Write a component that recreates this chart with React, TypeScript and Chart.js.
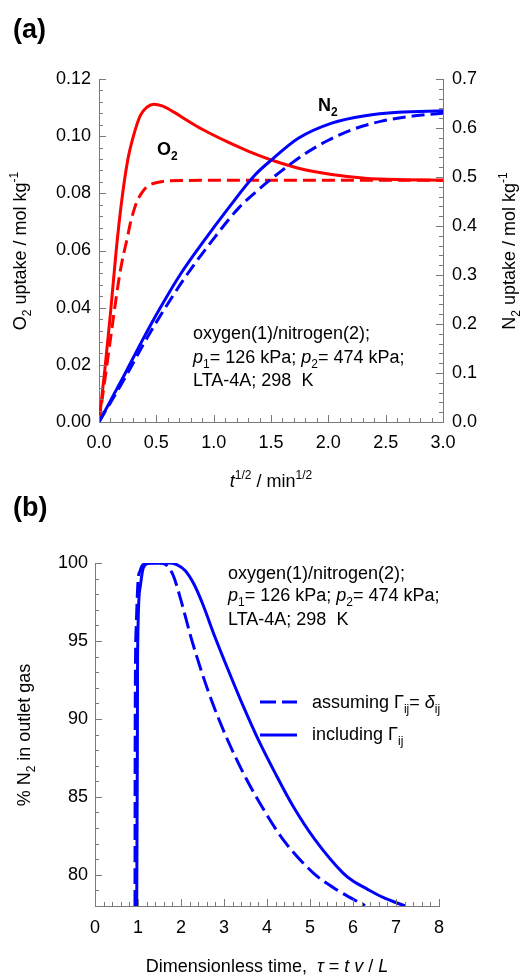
import { useEffect, useRef } from "react";
import { Chart, registerables } from "chart.js";

Chart.register(...registerables);

// ---------- Panel (a): uptake transients ----------
const o2FullT = [0, 0.05, 0.1, 0.15, 0.2, 0.25, 0.3, 0.36, 0.42, 0.48, 0.55, 0.65, 0.77, 0.9, 1.13, 1.3, 1.53, 1.74, 2.03, 2.32, 2.6, 3.0];
const o2FullQ = [0, 0.018, 0.038, 0.06, 0.078, 0.0915, 0.1, 0.1072, 0.1102, 0.1112, 0.1106, 0.1085, 0.1055, 0.1024, 0.0978, 0.0948, 0.0913, 0.0888, 0.0866, 0.0853, 0.0848, 0.0846];
const o2DiagT = [0, 0.05, 0.1, 0.17, 0.2, 0.25, 0.273, 0.3, 0.331, 0.37, 0.418, 0.52, 0.74, 1.2, 2.0, 3.0];
const o2DiagQ = [0, 0.0145, 0.029, 0.049, 0.056, 0.065, 0.0695, 0.0735, 0.0771, 0.08, 0.0823, 0.0839, 0.0845, 0.0846, 0.0846, 0.0846];
const n2FullT = [0, 0.221, 0.372, 0.532, 0.706, 0.91, 1.127, 1.36, 1.52, 1.738, 2.03, 2.32, 2.61, 3.0];
const n2FullQ = [0, 0.096, 0.164, 0.232, 0.3, 0.368, 0.436, 0.504, 0.538, 0.579, 0.61, 0.625, 0.632, 0.635];
const n2DiagT = [0, 0.241, 0.4, 0.575, 0.765, 0.98, 1.215, 1.4, 1.6, 1.8, 2.0, 2.2, 2.465, 2.755, 3.0];
const n2DiagQ = [0, 0.096, 0.164, 0.232, 0.3, 0.368, 0.436, 0.476, 0.514, 0.548, 0.575, 0.596, 0.614, 0.625, 0.63];
const aXTicks = [0, 0.5, 1, 1.5, 2, 2.5, 3];
const aLeftTicks = [0, 0.02, 0.04, 0.06, 0.08, 0.1, 0.12];
const aRightTicks = [0, 0.1, 0.2, 0.3, 0.4, 0.5, 0.6, 0.7];

// ---------- Panel (b): breakthrough, % N2 in outlet gas ----------
const bFullT = [0.97, 0.985, 0.99, 1.047, 1.12, 1.24, 1.4, 1.7, 1.9, 2.1, 2.3, 2.5, 2.79, 3.14, 3.45, 3.8, 4.19, 4.61, 5.12, 5.77, 6.0, 6.32, 6.7, 7.21];
const bFullY = [78, 88, 94, 98.4, 99.66, 99.97, 100, 100, 99.9, 99.5, 98.65, 97.4, 95.25, 92.85, 90.8, 88.65, 86.52, 84.38, 82.24, 80.11, 79.6, 79.1, 78.55, 78.0];
const bDiagT = [0.93, 0.935, 0.96, 1.0, 1.05, 1.12, 1.3, 1.5, 1.67, 1.82, 2.0, 2.23, 2.5, 2.77, 3.1, 3.45, 3.88, 4.38, 5.08, 5.62, 6.28];
const bDiagY = [78, 90, 96, 98.8, 99.5, 99.9, 100, 100, 99.85, 99.2, 97.6, 95.25, 92.85, 90.75, 88.55, 86.52, 84.38, 82.24, 80.11, 79.04, 78.03];
const bXTicks = [0, 1, 2, 3, 4, 5, 6, 7, 8];
const bYTicks = [80, 85, 90, 95, 100];

const FONT = '"Liberation Sans", Arial, Helvetica, sans-serif';
const AXIS = "#7a7a7a";
const RED = "#ff0000";
const BLUE = "#0000ff";

type Seg = { t: string; it?: boolean; b?: boolean; sub?: boolean; sup?: boolean };

function fontFor(s: Seg, size: number) {
  const fs = s.sub || s.sup ? Math.round(size * 0.66) : size;
  return `${s.it ? "italic " : ""}${s.b ? "bold " : ""}${fs}px ${FONT}`;
}

function drawRich(ctx: CanvasRenderingContext2D, segs: Seg[], x: number, y: number, size: number, align: "left" | "center", rot = 0) {
  ctx.save();
  let w = 0;
  const widths = segs.map((s) => {
    ctx.font = fontFor(s, size);
    const m = ctx.measureText(s.t).width;
    w += m;
    return m;
  });
  ctx.translate(x, y);
  ctx.rotate(rot);
  let cx = align === "center" ? -w / 2 : 0;
  ctx.textBaseline = "alphabetic";
  ctx.textAlign = "left";
  ctx.fillStyle = "#000";
  segs.forEach((s, i) => {
    ctx.font = fontFor(s, size);
    const dy = s.sub ? size * 0.28 : s.sup ? -size * 0.42 : 0;
    ctx.fillText(s.t, cx, dy);
    cx += widths[i];
  });
  ctx.restore();
}

type TickSpec = { id: string; side: "bottom" | "left" | "right"; minor: number; major: number };

function makeTickPlugin(specs: TickSpec[]) {
  return {
    id: "innerTicks",
    afterDraw(chart: any) {
      const ctx: CanvasRenderingContext2D = chart.ctx;
      const ca = chart.chartArea;
      ctx.save();
      ctx.strokeStyle = AXIS;
      ctx.lineWidth = 1;
      specs.forEach((sp) => {
        const sc = chart.scales[sp.id];
        const n = Math.round((sc.max - sc.min) / sp.minor);
        for (let k = 0; k <= n; k++) {
          const v = sc.min + k * sp.minor;
          const r = v / sp.major;
          const isMajor = Math.abs(r - Math.round(r)) < 1e-6;
          const len = isMajor ? 7 : 4;
          ctx.beginPath();
          if (sp.side === "bottom") {
            const px = Math.round(sc.getPixelForValue(v)) + 0.5;
            ctx.moveTo(px, ca.bottom);
            ctx.lineTo(px, ca.bottom - len);
          } else if (sp.side === "left") {
            const py = Math.round(sc.getPixelForValue(v)) + 0.5;
            ctx.moveTo(ca.left, py);
            ctx.lineTo(ca.left + len, py);
          } else {
            const py = Math.round(sc.getPixelForValue(v)) + 0.5;
            ctx.moveTo(ca.right, py);
            ctx.lineTo(ca.right - len, py);
          }
          ctx.stroke();
        }
      });
      ctx.restore();
    },
  };
}

function pts(t: number[], y: number[]) {
  return t.map((v, i) => ({ x: v, y: y[i] }));
}

const tickFont = { family: FONT, size: 18 };

function axisBase(ticks: number[], digits: number, pad: number) {
  return {
    type: "linear" as const,
    grid: { display: false, drawTicks: false },
    border: { display: true, color: AXIS, width: 1 },
    ticks: {
      font: tickFont,
      color: "#000",
      padding: pad,
      autoSkip: false,
      maxRotation: 0,
      callback: (v: any) => Number(v).toFixed(digits),
    },
    afterBuildTicks: (sc: any) => {
      sc.ticks = ticks.map((v) => ({ value: v }));
    },
  };
}

export default function App() {
  const refA = useRef<HTMLCanvasElement>(null);
  const refB = useRef<HTMLCanvasElement>(null);

  useEffect(() => {
    const textA = {
      id: "textA",
      afterDraw(chart: any) {
        const ctx: CanvasRenderingContext2D = chart.ctx;
        drawRich(ctx, [{ t: "(a)", b: true }], 13, 38, 27, "left");
        drawRich(ctx, [{ t: "O" }, { t: "2", sub: true }, { t: " uptake / mol kg" }, { t: "-1", sup: true }], 26, 251, 18, "center", -Math.PI / 2);
        drawRich(ctx, [{ t: "N" }, { t: "2", sub: true }, { t: " uptake / mol kg" }, { t: "-1", sup: true }], 515, 251, 18, "center", -Math.PI / 2);
        drawRich(ctx, [{ t: "t", it: true }, { t: "1/2", sup: true }, { t: " / min" }, { t: "1/2", sup: true }], 271, 487, 18, "center");
        drawRich(ctx, [{ t: "oxygen(1)/nitrogen(2);" }], 193, 339, 18, "left");
        drawRich(ctx, [{ t: "p", it: true }, { t: "1", sub: true }, { t: "= 126 kPa; " }, { t: "p", it: true }, { t: "2", sub: true }, { t: "= 474 kPa;" }], 193, 363, 18, "left");
        drawRich(ctx, [{ t: "LTA-4A; 298  K" }], 193, 386, 18, "left");
        drawRich(ctx, [{ t: "O", b: true }, { t: "2", b: true, sub: true }], 157, 155, 18, "left");
        drawRich(ctx, [{ t: "N", b: true }, { t: "2", b: true, sub: true }], 318, 111, 18, "left");
      },
    };

    const OFF = 495;
    const textB = {
      id: "textB",
      afterDraw(chart: any) {
        const ctx: CanvasRenderingContext2D = chart.ctx;
        drawRich(ctx, [{ t: "(b)", b: true }], 13, 516 - OFF, 27, "left");
        drawRich(ctx, [{ t: "% N" }, { t: "2", sub: true }, { t: " in outlet gas" }], 30, 735 - OFF, 18, "center", -Math.PI / 2);
        drawRich(ctx, [{ t: "Dimensionless time,  " }, { t: "τ", it: true }, { t: " = " }, { t: "t", it: true }, { t: " " }, { t: "v", it: true }, { t: " / " }, { t: "L", it: true }], 267, 972 - OFF, 18, "center");
        drawRich(ctx, [{ t: "oxygen(1)/nitrogen(2);" }], 228, 579 - OFF, 18, "left");
        drawRich(ctx, [{ t: "p", it: true }, { t: "1", sub: true }, { t: "= 126 kPa; " }, { t: "p", it: true }, { t: "2", sub: true }, { t: "= 474 kPa;" }], 228, 601 - OFF, 18, "left");
        drawRich(ctx, [{ t: "LTA-4A; 298  K" }], 228, 625 - OFF, 18, "left");
        // legend
        ctx.save();
        ctx.strokeStyle = BLUE;
        ctx.lineWidth = 3;
        ctx.setLineDash([16, 6]);
        ctx.beginPath();
        ctx.moveTo(260, 702 - OFF);
        ctx.lineTo(297, 702 - OFF);
        ctx.stroke();
        ctx.setLineDash([]);
        ctx.beginPath();
        ctx.moveTo(260, 735 - OFF);
        ctx.lineTo(297, 735 - OFF);
        ctx.stroke();
        ctx.restore();
        drawRich(ctx, [{ t: "assuming " }, { t: "Γ" }, { t: "ij", sub: true }, { t: "= " }, { t: "δ", it: true }, { t: "ij", sub: true }], 312, 708 - OFF, 18, "left");
        drawRich(ctx, [{ t: "including " }, { t: "Γ" }, { t: "ij", sub: true }], 312, 740 - OFF, 18, "left");
      },
    };

    const chartA = new Chart(refA.current!, {
      type: "line",
      data: {
        datasets: [
          { data: pts(n2FullT, n2FullQ), yAxisID: "y2", borderColor: BLUE, borderWidth: 3 },
          { data: pts(n2DiagT, n2DiagQ), yAxisID: "y2", borderColor: BLUE, borderWidth: 3, borderDash: [13, 6] },
          { data: pts(o2FullT, o2FullQ), yAxisID: "y", borderColor: RED, borderWidth: 3 },
          { data: pts(o2DiagT, o2DiagQ), yAxisID: "y", borderColor: RED, borderWidth: 3, borderDash: [13, 6] },
        ],
      },
      options: {
        responsive: false,
        animation: false,
        devicePixelRatio: 1,
        layout: { padding: { top: 79, left: 0, right: 0, bottom: 0 } },
        elements: { point: { radius: 0 }, line: { cubicInterpolationMode: "monotone", fill: false } },
        plugins: { legend: { display: false }, tooltip: { enabled: false } },
        scales: {
          x: { ...axisBase(aXTicks, 1, 10), min: 0, max: 3, position: "bottom", afterFit: (s: any) => { s.height = 73; } },
          y: { ...axisBase(aLeftTicks, 2, 8), min: 0, max: 0.12, position: "left", afterFit: (s: any) => { s.width = 99; } },
          y2: { ...axisBase(aRightTicks, 1, 9), min: 0, max: 0.7, position: "right", afterFit: (s: any) => { s.width = 80; } },
        },
      } as any,
      plugins: [
        makeTickPlugin([
          { id: "x", side: "bottom", minor: 0.1, major: 0.5 },
          { id: "y", side: "left", minor: 0.004, major: 0.02 },
          { id: "y2", side: "right", minor: 0.02, major: 0.1 },
        ]),
        textA,
      ],
    });

    const chartB = new Chart(refB.current!, {
      type: "line",
      data: {
        datasets: [
          { data: pts(bDiagT, bDiagY), borderColor: BLUE, borderWidth: 3, borderDash: [16, 6] },
          { data: pts(bFullT, bFullY), borderColor: BLUE, borderWidth: 3 },
        ],
      },
      options: {
        responsive: false,
        animation: false,
        devicePixelRatio: 1,
        layout: { padding: { top: 68, left: 0, right: 84, bottom: 0 } },
        elements: { point: { radius: 0 }, line: { cubicInterpolationMode: "monotone", fill: false } },
        plugins: { legend: { display: false }, tooltip: { enabled: false } },
        scales: {
          x: { ...axisBase(bXTicks, 0, 11), min: 0, max: 8, position: "bottom", afterFit: (s: any) => { s.height = 69; } },
          y: { ...axisBase(bYTicks, 0, 7), min: 78, max: 100, position: "left", afterFit: (s: any) => { s.width = 95; } },
        },
      } as any,
      plugins: [
        makeTickPlugin([
          { id: "x", side: "bottom", minor: 0.2, major: 1 },
          { id: "y", side: "left", minor: 1, major: 5 },
        ]),
        textB,
      ],
    });

    return () => {
      chartA.destroy();
      chartB.destroy();
    };
  }, []);

  return (
    <div style={{ position: "absolute", left: 0, top: 0, width: 523, height: 975, background: "#fff" }}>
      <canvas ref={refA} width={523} height={495} style={{ position: "absolute", left: 0, top: 0, display: "block" }} />
      <canvas ref={refB} width={523} height={480} style={{ position: "absolute", left: 0, top: 495, display: "block" }} />
    </div>
  );
}
